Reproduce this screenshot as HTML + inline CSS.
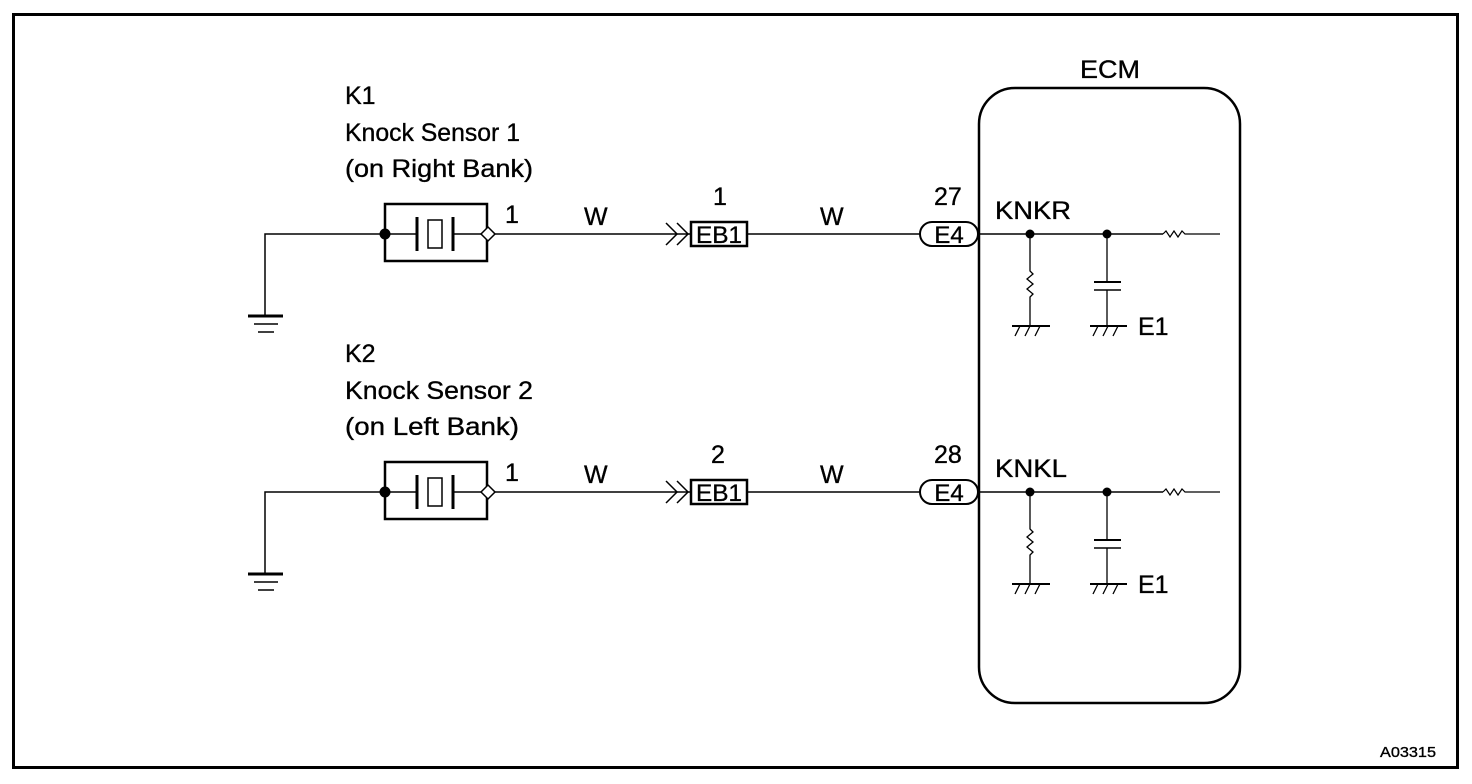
<!DOCTYPE html>
<html><head><meta charset="utf-8"><style>
html,body{margin:0;padding:0;background:#fff;}
svg{display:block;}
text{font-family:"Liberation Sans",Arial,sans-serif;fill:#000;stroke:#000;stroke-width:0.35;}
</style></head><body>
<svg width="1472" height="784" viewBox="0 0 1472 784" xmlns="http://www.w3.org/2000/svg">
<rect x="13.5" y="14.5" width="1444" height="753" fill="none" stroke="#000" stroke-width="3"/>
<text x="1080" y="78" font-size="25" textLength="60" lengthAdjust="spacingAndGlyphs">ECM</text>
<rect x="979" y="88" width="261" height="615" rx="36" ry="36" fill="none" stroke="#000" stroke-width="2.5"/>
<text x="1380" y="757" font-size="15" textLength="56" lengthAdjust="spacingAndGlyphs">A03315</text>

<text x="345" y="104" font-size="25">K1</text>
<text x="345" y="141" font-size="25" textLength="175" lengthAdjust="spacingAndGlyphs">Knock Sensor 1</text>
<text x="345" y="177" font-size="25" textLength="188" lengthAdjust="spacingAndGlyphs">(on Right Bank)</text>
<text x="713" y="205" font-size="25">1</text>
<text x="934" y="205" font-size="25">27</text>

<text x="345" y="362" font-size="25">K2</text>
<text x="345" y="399" font-size="25" textLength="188" lengthAdjust="spacingAndGlyphs">Knock Sensor 2</text>
<text x="345" y="435" font-size="25" textLength="174" lengthAdjust="spacingAndGlyphs">(on Left Bank)</text>
<text x="711" y="463" font-size="25">2</text>
<text x="934" y="463" font-size="25">28</text>

<g transform="translate(0,234)">
  <polyline points="385,0 265,0 265,82" fill="none" stroke="#000" stroke-width="1.5"/>
  <line x1="248" y1="82" x2="283" y2="82" stroke="#000" stroke-width="3"/>
  <line x1="254" y1="90" x2="278" y2="90" stroke="#000" stroke-width="1.5"/>
  <line x1="258" y1="98" x2="274" y2="98" stroke="#000" stroke-width="1.5"/>
  <rect x="385" y="-30" width="102" height="57" fill="none" stroke="#000" stroke-width="2.5"/>
  <line x1="385" y1="0" x2="417" y2="0" stroke="#000" stroke-width="1.5"/>
  <line x1="417" y1="-17" x2="417" y2="17" stroke="#000" stroke-width="3"/>
  <rect x="428" y="-14" width="14" height="28" fill="none" stroke="#000" stroke-width="1.5"/>
  <line x1="453" y1="-17" x2="453" y2="17" stroke="#000" stroke-width="3"/>
  <line x1="453" y1="0" x2="481" y2="0" stroke="#000" stroke-width="1.5"/>
  <circle cx="385" cy="0" r="5.5" fill="#000"/>
  <polygon points="488,-7 495,0 488,7 481,0" fill="#fff" stroke="#000" stroke-width="1.5"/>
  <line x1="495" y1="0" x2="690" y2="0" stroke="#000" stroke-width="1.5"/>
  <text x="505" y="-11" font-size="25">1</text>
  <text x="584" y="-9" font-size="25">W</text>
  <polyline points="666,-11 677,0 666,11" fill="none" stroke="#000" stroke-width="1.5"/>
  <polyline points="677,-11 688,0 677,11" fill="none" stroke="#000" stroke-width="1.5"/>
  <rect x="691" y="-12" width="56" height="24" fill="none" stroke="#000" stroke-width="2.5"/>
  <text x="719" y="9" font-size="24" text-anchor="middle" textLength="46" lengthAdjust="spacingAndGlyphs">EB1</text>
  <line x1="748" y1="0" x2="920" y2="0" stroke="#000" stroke-width="1.5"/>
  <text x="820" y="-9" font-size="25">W</text>
  <rect x="920" y="-12" width="58" height="24" rx="12" ry="12" fill="none" stroke="#000" stroke-width="2"/>
  <text x="949" y="9" font-size="24" text-anchor="middle">E4</text>
  <line x1="979" y1="0" x2="1163" y2="0" stroke="#000" stroke-width="1.5"/>
  <polyline points="1163,0 1166,-3 1170,3 1174,-3 1178,3 1182,-3 1185,0 1220,0" fill="none" stroke="#000" stroke-width="1.2"/>
  <text x="995" y="-15" font-size="25" textLength="76" lengthAdjust="spacingAndGlyphs">KNKR</text>
  <circle cx="1030" cy="0" r="4.5" fill="#000"/>
  <circle cx="1107" cy="0" r="4.5" fill="#000"/>
  <polyline points="1030,0 1030,37 1033,40 1027,45 1033,50 1027,55 1033,60 1030,63 1030,92" fill="none" stroke="#000" stroke-width="1.3"/>
  <line x1="1012" y1="92" x2="1050" y2="92" stroke="#000" stroke-width="2"/>
  <path d="M1015,102 L1020,92 M1025,102 L1030,92 M1035,102 L1040,92" stroke="#000" stroke-width="1.3"/>
  <line x1="1107" y1="0" x2="1107" y2="48" stroke="#000" stroke-width="1.3"/>
  <line x1="1094" y1="48" x2="1121" y2="48" stroke="#000" stroke-width="2"/>
  <line x1="1094" y1="56" x2="1121" y2="56" stroke="#000" stroke-width="1.5"/>
  <line x1="1107" y1="56" x2="1107" y2="92" stroke="#000" stroke-width="1.3"/>
  <line x1="1090" y1="92" x2="1127" y2="92" stroke="#000" stroke-width="2"/>
  <path d="M1093,102 L1098,92 M1103,102 L1108,92 M1113,102 L1118,92" stroke="#000" stroke-width="1.3"/>
  <text x="1138" y="101" font-size="25">E1</text>
</g>

<g transform="translate(0,492)">
  <polyline points="385,0 265,0 265,82" fill="none" stroke="#000" stroke-width="1.5"/>
  <line x1="248" y1="82" x2="283" y2="82" stroke="#000" stroke-width="3"/>
  <line x1="254" y1="90" x2="278" y2="90" stroke="#000" stroke-width="1.5"/>
  <line x1="258" y1="98" x2="274" y2="98" stroke="#000" stroke-width="1.5"/>
  <rect x="385" y="-30" width="102" height="57" fill="none" stroke="#000" stroke-width="2.5"/>
  <line x1="385" y1="0" x2="417" y2="0" stroke="#000" stroke-width="1.5"/>
  <line x1="417" y1="-17" x2="417" y2="17" stroke="#000" stroke-width="3"/>
  <rect x="428" y="-14" width="14" height="28" fill="none" stroke="#000" stroke-width="1.5"/>
  <line x1="453" y1="-17" x2="453" y2="17" stroke="#000" stroke-width="3"/>
  <line x1="453" y1="0" x2="481" y2="0" stroke="#000" stroke-width="1.5"/>
  <circle cx="385" cy="0" r="5.5" fill="#000"/>
  <polygon points="488,-7 495,0 488,7 481,0" fill="#fff" stroke="#000" stroke-width="1.5"/>
  <line x1="495" y1="0" x2="690" y2="0" stroke="#000" stroke-width="1.5"/>
  <text x="505" y="-11" font-size="25">1</text>
  <text x="584" y="-9" font-size="25">W</text>
  <polyline points="666,-11 677,0 666,11" fill="none" stroke="#000" stroke-width="1.5"/>
  <polyline points="677,-11 688,0 677,11" fill="none" stroke="#000" stroke-width="1.5"/>
  <rect x="691" y="-12" width="56" height="24" fill="none" stroke="#000" stroke-width="2.5"/>
  <text x="719" y="9" font-size="24" text-anchor="middle" textLength="46" lengthAdjust="spacingAndGlyphs">EB1</text>
  <line x1="748" y1="0" x2="920" y2="0" stroke="#000" stroke-width="1.5"/>
  <text x="820" y="-9" font-size="25">W</text>
  <rect x="920" y="-12" width="58" height="24" rx="12" ry="12" fill="none" stroke="#000" stroke-width="2"/>
  <text x="949" y="9" font-size="24" text-anchor="middle">E4</text>
  <line x1="979" y1="0" x2="1163" y2="0" stroke="#000" stroke-width="1.5"/>
  <polyline points="1163,0 1166,-3 1170,3 1174,-3 1178,3 1182,-3 1185,0 1220,0" fill="none" stroke="#000" stroke-width="1.2"/>
  <text x="995" y="-15" font-size="25" textLength="72" lengthAdjust="spacingAndGlyphs">KNKL</text>
  <circle cx="1030" cy="0" r="4.5" fill="#000"/>
  <circle cx="1107" cy="0" r="4.5" fill="#000"/>
  <polyline points="1030,0 1030,37 1033,40 1027,45 1033,50 1027,55 1033,60 1030,63 1030,92" fill="none" stroke="#000" stroke-width="1.3"/>
  <line x1="1012" y1="92" x2="1050" y2="92" stroke="#000" stroke-width="2"/>
  <path d="M1015,102 L1020,92 M1025,102 L1030,92 M1035,102 L1040,92" stroke="#000" stroke-width="1.3"/>
  <line x1="1107" y1="0" x2="1107" y2="48" stroke="#000" stroke-width="1.3"/>
  <line x1="1094" y1="48" x2="1121" y2="48" stroke="#000" stroke-width="2"/>
  <line x1="1094" y1="56" x2="1121" y2="56" stroke="#000" stroke-width="1.5"/>
  <line x1="1107" y1="56" x2="1107" y2="92" stroke="#000" stroke-width="1.3"/>
  <line x1="1090" y1="92" x2="1127" y2="92" stroke="#000" stroke-width="2"/>
  <path d="M1093,102 L1098,92 M1103,102 L1108,92 M1113,102 L1118,92" stroke="#000" stroke-width="1.3"/>
  <text x="1138" y="101" font-size="25">E1</text>
</g>
</svg>
</body></html>
